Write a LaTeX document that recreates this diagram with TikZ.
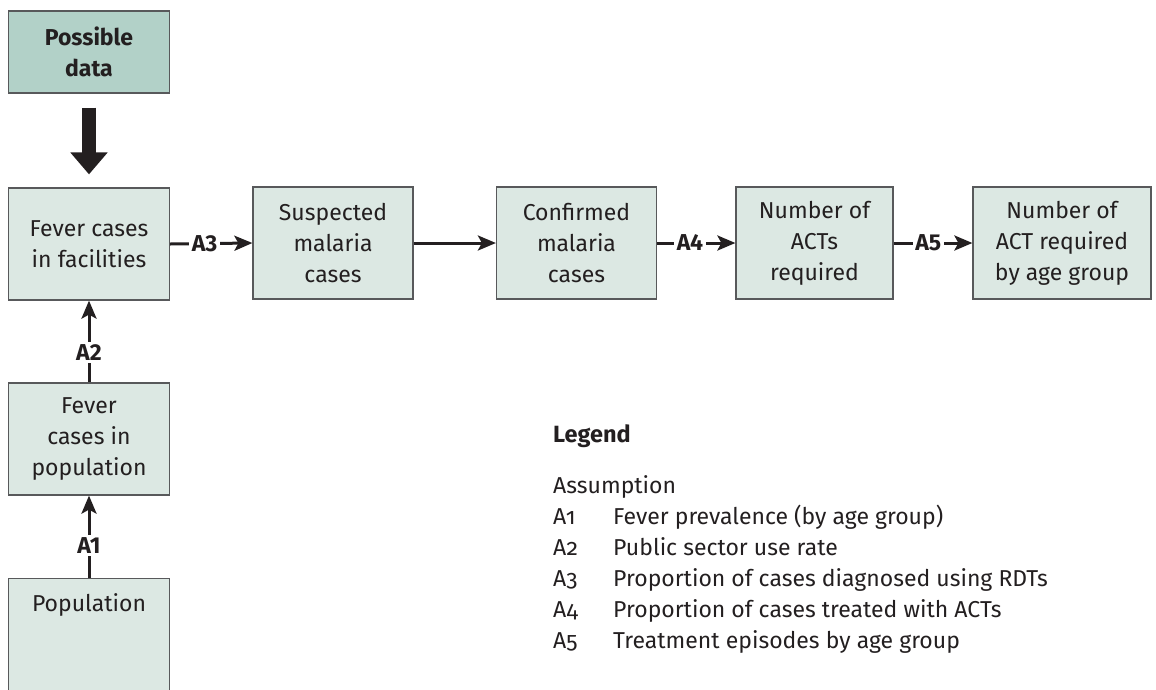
\documentclass[tikz,border=0pt]{standalone}
\usepackage{fontspec}
\setmainfont{Fira Sans}
\newfontfamily\oldnum[Numbers=OldStyle]{Fira Sans}
\usetikzlibrary{arrows.meta}
\definecolor{boxfill}{HTML}{DCE8E3}
\definecolor{datafill}{HTML}{B2D1C8}
\definecolor{boxline}{HTML}{58595B}
\definecolor{ink}{HTML}{231F20}

\begin{document}
\begin{tikzpicture}[x=1pt,y=-1pt,
  font=\fontsize{23}{31}\selectfont, text=ink,
  box/.style={draw=boxline, line width=1.2pt, fill=boxfill, minimum width=161pt,
    minimum height=112pt, align=center, inner sep=0pt},
  flow/.style={draw=ink, line width=3pt,
    -{Stealth[length=18pt,width=15pt,inset=4pt]}},
  bigflow/.style={draw=ink, line width=14pt,
    -{Triangle[length=22pt,width=36pt]}},
  lab/.style={fill=white, inner sep=2.5pt, font=\fontsize{23}{26}\selectfont\bfseries},
  legtext/.style={anchor=base west, inner sep=0pt}]

\useasboundingbox (0,0) rectangle (1156,689);
\clip (0,0) rectangle (1156,689);

% source of the data
\node[box, fill=datafill, minimum height=82pt, font=\fontsize{23}{31}\selectfont\bfseries]
  (data) at (89,52) {Possible\\data};

% main chain of estimates
\node[box] (fac)  at (89,244)    {Fever cases\\in facilities};
\node[box, minimum width=160pt] (sus)  at (333,243)   {Suspected\\malaria\\cases};
\node[box, minimum width=160pt] (conf) at (576.5,243) {Confirmed\\malaria\\cases};
\node[box, minimum width=157pt] (nact) at (814.5,243) {Number of\\ACTs\\required};
\node[box, minimum width=178pt] (age)  at (1062,243)  {Number of\\ACT required\\by age group};

% left column feeding the facility cases
\node[box] (fpop) at (89,439) {Fever\\cases in\\population};
\node[box, minimum height=140pt, anchor=north] (pop) at (89,578) {};
\node[anchor=north, inner sep=0pt] (poptext) at ([yshift=-15pt]pop.north) {Population};

% connectors
\draw[bigflow] (data.south) ++(0,-14pt) coordinate (bigstart) -- ([yshift=13pt]fac.north);
\draw[flow] (fac.east) -- (sus.west) node[lab, pos=0.42] (a3) {A3};
\draw[flow] (sus.east) -- (conf.west);
\draw[flow] (conf.east) -- (nact.west) node[lab, pos=0.42] (a4) {A4};
\draw[flow] (nact.east) -- (age.west) node[lab, pos=0.44] (a5) {A5};
\draw[flow] (fpop.north) -- (fac.south) node[lab, pos=0.37] (a2) {A2};
\draw[flow] (pop.north) -- (fpop.south) node[lab, pos=0.4] (a1) {A1};

% legend
\node[legtext, font=\fontsize{23.5}{26}\selectfont\bfseries] (legend) at (553,442) {Legend};
\node[legtext] (assump) at (553,493) {Assumption};
\foreach \k/\txt [count=\i] in {1/Fever prevalence (by age group),
    2/Public sector use rate,
    3/Proportion of cases diagnosed using RDTs,
    4/Proportion of cases treated with ACTs,
    5/Treatment episodes by age group} {
  \node[legtext] (key\k) at (553,{493+31*\i}) {\oldnum A\k};
  \node[legtext] (desc\k) at (613,{493+31*\i}) {\txt};
}
\end{tikzpicture}
\end{document}
